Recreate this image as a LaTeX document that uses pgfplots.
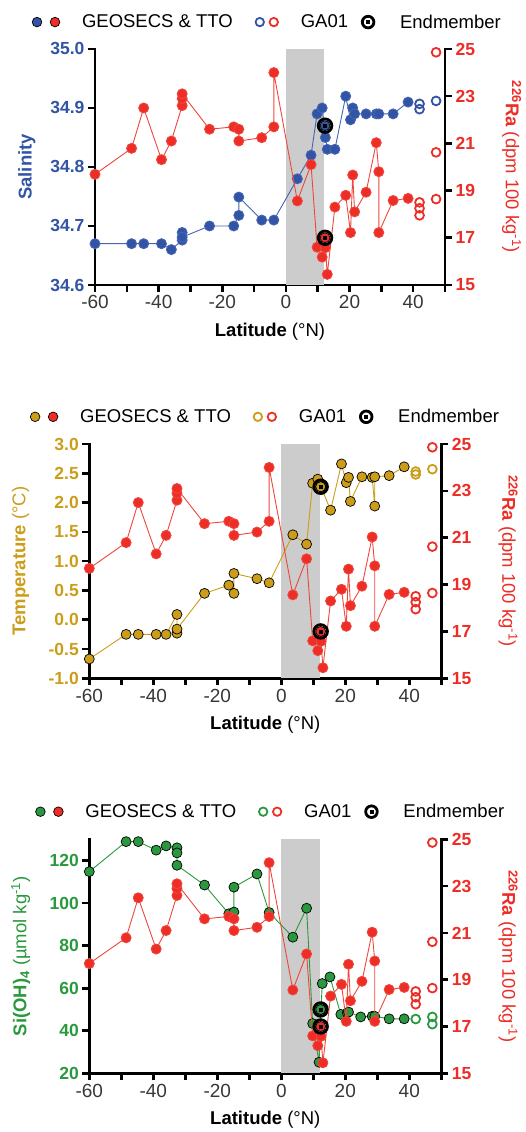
\documentclass[border=0pt]{standalone}
\usepackage{pgfplots}
\usepackage{pgfplotstable}
\pgfplotsset{compat=1.18}
\usepackage{fontspec}
\setmainfont{Liberation Sans}
\definecolor{salblue}{RGB}{50,84,165}
\definecolor{salline}{RGB}{70,100,180}
\definecolor{rared}{RGB}{237,45,38}
\definecolor{raline}{RGB}{238,70,60}
\definecolor{tgold}{RGB}{204,157,24}
\definecolor{sigreen}{RGB}{42,152,62}
\definecolor{bandgray}{RGB}{204,204,204}
\definecolor{ticktext}{RGB}{55,55,55}
\newcommand\fs{\fontsize{18.5}{21}\selectfont}
\newcommand\tfs{\fontsize{17.5}{20}\selectfont}
\newcommand\xfs{\fontsize{19}{21}\selectfont}

\pgfplotstableread{
lat ra
-60 19.69
-48.5 20.79
-44.7 22.5
-39.1 20.31
-36.0 21.1
-32.6 22.6
-32.6 22.9
-32.6 23.1
-24.0 21.6
-16.4 21.7
-14.8 21.6
-14.8 21.1
-7.6 21.24
-3.8 21.7
-3.8 24.0
3.6 18.56
7.9 20.1
9.8 16.6
11.4 16.18
12.4 16.58
13.0 15.45
15.4 18.3
18.8 18.8
20.3 17.22
21.0 19.66
21.6 18.1
25.2 18.93
28.4 21.03
29.2 19.8
29.2 17.22
33.7 18.58
38.4 18.67
}\radata
\pgfplotstableread{
lat ra
42.0 18.5
42.0 18.25
42.0 17.95
47.2 18.64
47.2 20.62
47.2 24.86
}\raga
\pgfplotstableread{
lat s
-60 34.67
-48.5 34.67
-44.7 34.67
-39.1 34.67
-36.0 34.66
-32.6 34.676
-32.6 34.689
-32.6 34.681
-24.0 34.70
-16.4 34.70
-14.8 34.718
-14.8 34.749
-7.6 34.71
-3.8 34.71
3.6 34.78
7.9 34.82
9.8 34.89
11.4 34.90
12.4 34.85
13.0 34.83
15.4 34.83
18.8 34.92
20.3 34.88
21.0 34.90
21.6 34.89
25.2 34.89
28.4 34.89
29.2 34.89
33.7 34.89
38.4 34.91
}\saldata
\pgfplotstableread{
lat s
42.0 34.907
42.0 34.898
47.2 34.912
}\salga
\pgfplotstableread{
lat t
-60 -0.67
-48.5 -0.25
-44.7 -0.25
-39.1 -0.25
-36.0 -0.25
-32.6 0.09
-32.6 -0.23
-32.6 -0.16
-24.0 0.45
-16.4 0.59
-14.8 0.45
-14.8 0.79
-7.6 0.70
-3.8 0.63
3.6 1.45
7.9 1.29
9.8 2.33
11.4 2.40
12.4 2.27
15.4 1.87
18.8 2.66
20.3 2.34
21.0 2.43
21.6 2.02
25.2 2.44
28.4 2.43
29.2 1.94
29.2 2.44
33.7 2.46
38.4 2.61
}\tdata
\pgfplotstableread{
lat t
42.0 2.53
42.0 2.48
47.2 2.57
}\tga
\pgfplotstableread{
lat si
-60 114.8
-48.5 128.9
-44.7 128.9
-39.1 124.9
-36.0 126.9
-32.6 126.0
-32.6 123.6
-32.6 117.8
-24.0 108.5
-16.4 95.0
-14.8 95.8
-14.8 107.5
-7.6 113.7
-3.8 95.6
3.6 84.0
7.9 97.6
9.8 43.4
11.8 25.2
12.4 50.0
12.8 62.2
15.2 65.3
18.6 47.7
20.6 48.4
21.0 48.8
24.8 46.5
28.4 46.8
29.2 46.8
33.7 45.6
38.4 45.6
}\sidata
\pgfplotstableread{
lat si
42.0 45.5
47.2 46.5
47.2 43.1
}\siga

\pgfplotsset{
  base/.style={scale only axis, clip=false, xmin=-60, xmax=50,
    axis line style={line width=2.6pt, black, line cap=rect},
    tick style={line width=2.6pt, black},
    tick align=outside, major tick length=7pt,
    yticklabel style={font=\tfs\bfseries},
  },
  leftax/.style={base, axis x line*=bottom, axis y line*=left,
    xtick={-60,-50,...,50},
    xticklabels={-60,,-40,,-20,,0,,20,,40,},
    xticklabel style={font=\xfs, text=ticktext},
    xlabel={\textbf{Latitude} (°N)},
    xlabel style={font=\fs, at={(axis description cs:0.5,-0.2)}, anchor=center},
    ylabel style={font=\fs, at={(axis description cs:-0.195,0.5)}, anchor=center},
    legend columns=3, legend cell align=left,
    legend style={draw=none, fill=none, font=\fs, anchor=center,
      column sep=0pt, nodes={inner sep=0pt}},
  },
  rightax/.style={base, axis x line=none, axis y line*=right, xtick=\empty,
    ymin=15, ymax=25, ytick={15,17,...,25},
    yticklabels={15,17,19,21,23,25},
    yticklabel style={text=rared},
    ylabel={\textbf{\textsuperscript{226}Ra} (dpm 100 kg\textsuperscript{-1})},
    ylabel style={font=\fs, text=rared, rotate=180, at={(axis description cs:1.19,0.5)}, anchor=center},
  },
  dat/.style={forget plot, color=#1, line width=0.9pt, mark=*, mark size=5pt,
    mark options={fill=#1, draw=black, line width=0.7pt}},
  ga/.style={forget plot, only marks, mark=o, mark size=4.4pt,
    mark options={draw=#1, line width=1.8pt}},
}
\newcommand\legentries[1]{%
  \addlegendimage{legend image code/.code={
    \path[draw=none, fill=none] (-7pt,-8pt) rectangle (45pt,8pt);
    \draw[black, line width=0.7pt, fill=#1] (0pt,0pt) circle (4.8pt);
    \draw[black, line width=0.7pt, fill=rared] (18pt,0pt) circle (4.8pt);}}
  \addlegendentry{GEOSECS \& TTO}
  \addlegendimage{legend image code/.code={
    \path[draw=none, fill=none] (-27pt,-8pt) rectangle (41pt,8pt);
    \draw[#1, line width=1.8pt, fill=none] (0pt,0pt) circle (4.2pt);
    \draw[rared, line width=1.8pt, fill=none] (14pt,0pt) circle (4.2pt);}}
  \addlegendentry{GA01}
  \addlegendimage{legend image code/.code={
    \path[draw=none, fill=none] (-20pt,-8pt) rectangle (32pt,8pt);
    \draw[black, line width=2.8pt, fill=none] (0pt,0pt) circle (5.8pt);
    \fill[black] (-1.5pt,-1.5pt) rectangle (1.5pt,1.5pt);}}
  \addlegendentry{Endmember}
}
\newcommand\emark[3]{%
  \addplot[forget plot, only marks, mark=*, mark size=5pt, mark options={fill=#1, draw=black, line width=0.7pt}] coordinates {(#2,#3)};
  \addplot[forget plot, only marks, mark=o, mark size=6.8pt, mark options={draw=black, line width=2.8pt}] coordinates {(#2,#3)};
  \addplot[forget plot, only marks, mark=square*, mark size=1.5pt, mark options={fill=black, draw=black}] coordinates {(#2,#3)};
}

\begin{document}
\begin{tikzpicture}
\useasboundingbox (0pt,0pt) rectangle (525pt,1132pt);
% ---------- Panel 1: salinity ----------
\begin{axis}[leftax, at={(95pt,847pt)}, anchor=south west, width=350pt, height=236pt,
  ymin=34.6, ymax=35.0, ytick={34.6,34.7,34.8,34.9,35.0},
  yticklabels={34.6,34.7,34.8,34.9,35.0}, yticklabel style={text=salblue},
  ylabel={\textbf{Salinity}}, ylabel style={text=salblue},
  legend style={at={(axis description cs:0.487,1.114)}}]
\addplot[forget plot, fill=bandgray, draw=none] coordinates {(0,34.6) (12,34.6) (12,35.0) (0,35.0)} -- cycle;
\legentries{salblue}
\addplot[dat=salblue, color=salline, mark options={fill=salblue}] table[x=lat,y=s] {\saldata};
\addplot[ga=salblue] table[x=lat,y=s] {\salga};
\emark{salblue}{12.3}{34.87}
\end{axis}
\begin{axis}[rightax, at={(95pt,847pt)}, anchor=south west, width=350pt, height=236pt]
\addplot[dat=rared, color=raline, mark options={fill=rared}] table[x=lat,y=ra] {\radata};
\addplot[ga=rared] table[x=lat,y=ra] {\raga};
\emark{rared}{12.3}{17.0}
\end{axis}
% ---------- Panel 2: temperature ----------
\begin{axis}[leftax, at={(89.3pt,453.7pt)}, anchor=south west, width=352pt, height=234.3pt,
  ymin=-1, ymax=3, ytick={-1,-0.5,...,3},
  yticklabels={-1.0,-0.5,0.0,0.5,1.0,1.5,2.0,2.5,3.0}, yticklabel style={text=tgold},
  ylabel={\textbf{Temperature} (°C)}, ylabel style={text=tgold},
  legend style={at={(axis description cs:0.495,1.116)}}]
\addplot[forget plot, fill=bandgray, draw=none] coordinates {(0,-1) (12,-1) (12,3) (0,3)} -- cycle;
\legentries{tgold}
\addplot[dat=tgold] table[x=lat,y=t] {\tdata};
\addplot[ga=tgold] table[x=lat,y=t] {\tga};
\emark{tgold}{12.3}{2.27}
\end{axis}
\begin{axis}[rightax, at={(89.3pt,453.7pt)}, anchor=south west, width=352pt, height=234.3pt]
\addplot[dat=rared, color=raline, mark options={fill=rared}] table[x=lat,y=ra] {\radata};
\addplot[ga=rared] table[x=lat,y=ra] {\raga};
\emark{rared}{12.3}{17.0}
\end{axis}
% ---------- Panel 3: silicate ----------
\begin{axis}[leftax, at={(89.3pt,58.7pt)}, anchor=south west, width=352pt, height=234pt,
  ymin=20, ymax=130, ytick={20,40,...,120},
  yticklabels={20,40,60,80,100,120}, yticklabel style={text=sigreen},
  ylabel={\textbf{Si(OH)\textsubscript{4}} (µmol kg\textsuperscript{-1})}, ylabel style={text=sigreen},
  legend style={at={(axis description cs:0.51,1.118)}}]
\addplot[forget plot, fill=bandgray, draw=none] coordinates {(0,20) (12,20) (12,130) (0,130)} -- cycle;
\legentries{sigreen}
\addplot[dat=sigreen] table[x=lat,y=si] {\sidata};
\addplot[ga=sigreen] table[x=lat,y=si] {\siga};
\emark{sigreen}{12.3}{50}
\end{axis}
\begin{axis}[rightax, at={(89.3pt,58.7pt)}, anchor=south west, width=352pt, height=234pt]
\addplot[dat=rared, color=raline, mark options={fill=rared}] table[x=lat,y=ra] {\radata};
\addplot[ga=rared] table[x=lat,y=ra] {\raga};
\emark{rared}{12.3}{17.0}
\end{axis}
\end{tikzpicture}
\end{document}
